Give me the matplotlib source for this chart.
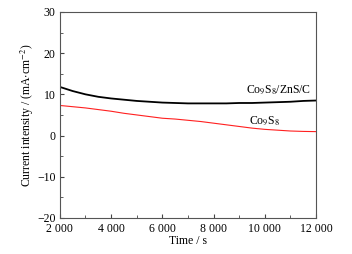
import matplotlib
matplotlib.use("Agg")
import matplotlib.pyplot as plt
from matplotlib.ticker import MultipleLocator, FuncFormatter

plt.rcParams['font.family'] = ['Liberation Serif', 'DejaVu Serif']
plt.rcParams['mathtext.fontset'] = 'stix'

time_s = [2000, 2500, 3000, 3500, 4000, 4500, 5000, 5500, 6000, 6500, 7000,
          7500, 8000, 8500, 9000, 9500, 10000, 10500, 11000, 11500, 12000]
composite = [11.8, 10.8, 10.0, 9.4, 9.0, 8.7, 8.4, 8.2, 8.0, 7.9, 7.8,
             7.8, 7.8, 7.8, 7.9, 7.9, 8.0, 8.1, 8.2, 8.4, 8.5]
bare = [7.3, 7.0, 6.7, 6.3, 5.9, 5.4, 5.0, 4.6, 4.2, 4.0, 3.7,
        3.4, 3.0, 2.6, 2.2, 1.8, 1.5, 1.3, 1.1, 1.0, 0.95]

fig = plt.figure(figsize=(3.52, 2.54), dpi=100)
ax = fig.add_axes([0.170, 0.142, 0.728, 0.811])

ax.plot(time_s, composite, color='black', lw=1.3)
ax.plot(time_s, bare, color='#ff2020', lw=0.8)

ax.set_xlim(2000, 12000)
ax.set_ylim(-20, 30)
ax.xaxis.set_major_locator(MultipleLocator(2000))
ax.xaxis.set_minor_locator(MultipleLocator(1000))
ax.yaxis.set_major_locator(MultipleLocator(10))
ax.yaxis.set_minor_locator(MultipleLocator(5))
ax.xaxis.set_major_formatter(FuncFormatter(lambda v, p: f"{int(v):,}".replace(",", " ")))
ax.tick_params(which='both', direction='in', top=False, right=False,
               labelsize=8.5, color='#444444')
ax.tick_params(axis='x', pad=4)
ax.tick_params(axis='y', pad=3)
ax.tick_params(which='major', length=3)
ax.tick_params(which='minor', length=2)
for s in ax.spines.values():
    s.set_color('#555555')
    s.set_linewidth(0.8)

ax.set_xlabel('Time / s', fontsize=8.5, labelpad=0)
ax.set_ylabel(r'Current intensity / (mA$\cdot$cm$^{-2}$)', fontsize=8.5, labelpad=1)

ax.text(11800, 9.6, r'Co$_9$S$_8$/ZnS/C', fontsize=8.5, ha='right', va='bottom')
ax.text(9400, 2.0, r'Co$_9$S$_8$', fontsize=8.5, ha='left', va='bottom')

fig.savefig('out.png', dpi=100)
